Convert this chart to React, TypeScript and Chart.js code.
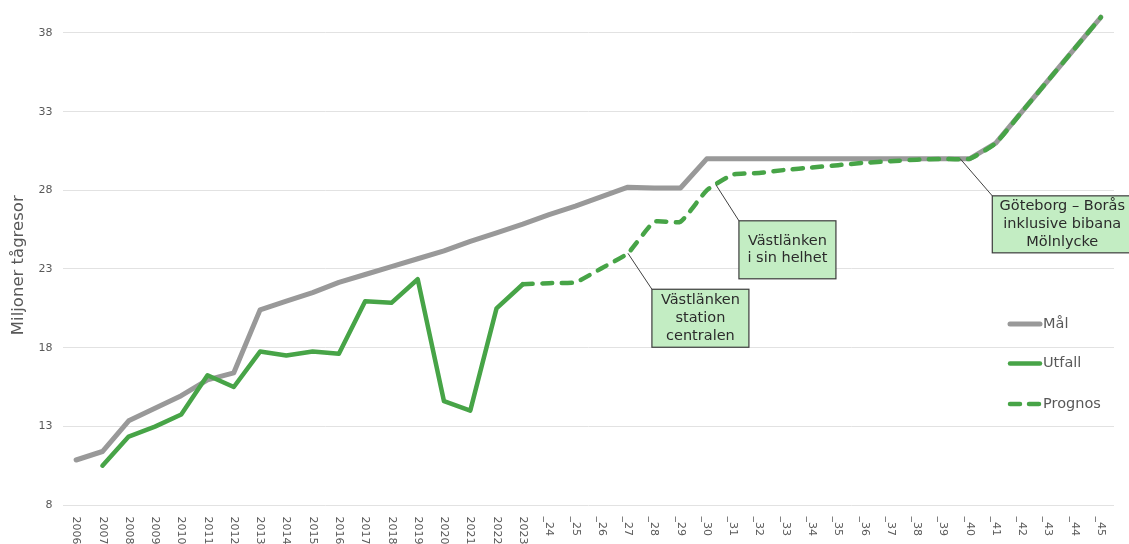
import React, { useEffect, useRef } from "react";
import { Chart, registerables } from "chart.js";

Chart.register(...registerables);

const CATEGORIES: string[] = [
  "2006", "2007", "2008", "2009", "2010", "2011", "2012", "2013", "2014", "2015",
  "2016", "2017", "2018", "2019", "2020", "2021", "2022", "2023",
  "_24", "_25", "_26", "_27", "_28", "_29", "_30", "_31", "_32", "_33", "_34",
  "_35", "_36", "_37", "_38", "_39", "_40", "_41", "_42", "_43", "_44", "_45",
];

const MAL: (number | null)[] = [
  10.86, 11.4, 13.35, 14.15, 14.95, 15.95, 16.4, 20.4, 20.95, 21.5,
  22.15, 22.65, 23.15, 23.65, 24.15, 24.75, 25.3, 25.85,
  26.45, 27.0, 27.6, 28.2, 28.15, 28.15, 30, 30, 30, 30, 30,
  30, 30, 30, 30, 30, 30, 31, 33, 35, 37, 39,
];

const UTFALL: (number | null)[] = [
  null, 10.5, 12.35, 12.98, 13.75, 16.25, 15.5, 17.75, 17.5, 17.75,
  17.62, 20.95, 20.85, 22.35, 14.6, 14.0, 20.5, 22.03,
  null, null, null, null, null, null, null, null, null, null, null,
  null, null, null, null, null, null, null, null, null, null, null,
];

const PROGNOS: (number | null)[] = [
  null, null, null, null, null, null, null, null, null, null,
  null, null, null, null, null, null, null, 22.03,
  22.1, 22.15, 23.05, 24.0, 26.0, 26.0, 28.0, 29.0, 29.1, 29.3, 29.45,
  29.6, 29.75, 29.85, 29.95, 30.0, 30.0, 31, 33, 35, 37, 39,
];

const Y_TICKS: number[] = [8, 13, 18, 23, 28, 33, 38];
const Y_TITLE = "Miljoner tågresor";

const LEGEND_LABELS: string[] = ["Mål", "Utfall", "Prognos"];

const ANNOTATION_TEXTS: string[][] = [
  ["Västlänken", "station", "centralen"],
  ["Västlänken", "i sin helhet"],
  ["Göteborg – Borås", "inklusive bibana", "Mölnlycke"],
];
// anchor: dataset index, point index, fraction toward next point
const ANNOTATION_ANCHORS: { ds: number; idx: number; t: number }[] = [
  { ds: 2, idx: 21, t: 0 },
  { ds: 2, idx: 24, t: 0.35 },
  { ds: 0, idx: 33, t: 0.65 },
];
const ANNOTATION_BOXES: { dx: number; dy: number; w: number; h: number }[] = [
  { dx: 24, dy: 36, w: 97, h: 58 },
  { dx: 23, dy: 36, w: 97, h: 58 },
  { dx: 32, dy: 37, w: 140, h: 57 },
];

const GRAY = "#999999";
const GREEN = "#47a447";
const TEXT = "#595959";
const FONT = '"DejaVu Sans", Verdana, sans-serif';

const customPlugin = {
  id: "customDraw",
  afterDraw(chart: any) {
    const { ctx, chartArea } = chart;
    const x = chart.scales.x;
    const y = chart.scales.y;
    ctx.save();

    // y tick labels
    ctx.font = `11px ${FONT}`;
    ctx.fillStyle = TEXT;
    ctx.textAlign = "right";
    ctx.textBaseline = "middle";
    Y_TICKS.forEach((v) => {
      ctx.fillText(String(v), chartArea.left - 10.5, y.getPixelForValue(v));
    });

    // x tick labels rotated clockwise
    CATEGORIES.forEach((c, i) => {
      const px = x.getPixelForValue(i);
      ctx.save();
      ctx.translate(px, chartArea.bottom + 11.5);
      ctx.rotate(Math.PI / 2);
      ctx.textAlign = "left";
      ctx.textBaseline = "middle";
      ctx.fillText(c, 0, 0);
      ctx.restore();
    });

    // y title
    ctx.save();
    ctx.font = `16.5px ${FONT}`;
    ctx.fillStyle = TEXT;
    ctx.translate(19, (chartArea.top + chartArea.bottom) / 2 + 12);
    ctx.rotate(-Math.PI / 2);
    ctx.textAlign = "center";
    ctx.textBaseline = "middle";
    ctx.fillText(Y_TITLE, 0, 0);
    ctx.restore();

    // legend
    const legendStyles = [
      { color: GRAY, width: 5, dash: [] as number[] },
      { color: GREEN, width: 4.5, dash: [] as number[] },
      { color: GREEN, width: 4.5, dash: [10, 9] },
    ];
    const legendYs = [324, 363.5, 404];
    const lx0 = chartArea.right - 106;
    const lx1 = chartArea.right - 72;
    LEGEND_LABELS.forEach((label, i) => {
      const st = legendStyles[i];
      const ly = legendYs[i];
      ctx.save();
      ctx.strokeStyle = st.color;
      ctx.lineWidth = st.width;
      ctx.lineCap = "round";
      ctx.setLineDash(st.dash);
      ctx.beginPath();
      ctx.moveTo(lx0 + 2, ly);
      ctx.lineTo(lx1 - 2, ly);
      ctx.stroke();
      ctx.restore();
      ctx.font = `14.5px ${FONT}`;
      ctx.fillStyle = TEXT;
      ctx.textAlign = "left";
      ctx.textBaseline = "middle";
      ctx.fillText(label, lx1 + 1, ly);
    });

    // annotations
    ANNOTATION_TEXTS.forEach((lines, k) => {
      const a = ANNOTATION_ANCHORS[k];
      const b = ANNOTATION_BOXES[k];
      const pts = chart.getDatasetMeta(a.ds).data;
      const p0 = pts[a.idx];
      const p1 = pts[a.idx + 1] || p0;
      const ax = p0.x + (p1.x - p0.x) * a.t;
      const ay = p0.y + (p1.y - p0.y) * a.t;
      const bx = ax + b.dx;
      const by = ay + b.dy;
      ctx.save();
      ctx.strokeStyle = "#404040";
      ctx.lineWidth = 1;
      ctx.beginPath();
      ctx.moveTo(ax, ay);
      ctx.lineTo(bx, by);
      ctx.stroke();
      ctx.fillStyle = "#c3edc3";
      ctx.fillRect(bx, by, b.w, b.h);
      ctx.strokeStyle = "#3c3c3c";
      ctx.lineWidth = 1.2;
      ctx.strokeRect(bx, by, b.w, b.h);
      ctx.font = `14.5px ${FONT}`;
      ctx.fillStyle = "#2b2b2b";
      ctx.textAlign = "center";
      ctx.textBaseline = "middle";
      const lh = 17.8;
      const cy = by + b.h / 2;
      lines.forEach((t, j) => {
        ctx.fillText(t, bx + b.w / 2, cy + (j - (lines.length - 1) / 2) * lh);
      });
      ctx.restore();
    });

    ctx.restore();
  },
};

export default function App() {
  const canvasRef = useRef<HTMLCanvasElement | null>(null);

  useEffect(() => {
    document.body.style.margin = "0";
    const canvas = canvasRef.current;
    if (!canvas) return;
    const chart = new Chart(canvas, {
      type: "line",
      data: {
        labels: CATEGORIES,
        datasets: [
          {
            label: "Mål",
            data: MAL,
            borderColor: GRAY,
            backgroundColor: GRAY,
            borderWidth: 5,
            pointRadius: 0,
            tension: 0,
            borderJoinStyle: "round",
            borderCapStyle: "round",
            order: 2,
          },
          {
            label: "Utfall",
            data: UTFALL,
            borderColor: GREEN,
            backgroundColor: GREEN,
            borderWidth: 4.5,
            pointRadius: 0,
            tension: 0,
            borderJoinStyle: "round",
            borderCapStyle: "round",
            order: 1,
          },
          {
            label: "Prognos",
            data: PROGNOS,
            borderColor: GREEN,
            backgroundColor: GREEN,
            borderWidth: 4.5,
            pointRadius: 0,
            tension: 0.15,
            borderDash: [10, 9.5],
            borderCapStyle: "round",
            borderJoinStyle: "round",
            order: 0,
          },
        ] as any,
      },
      options: {
        animation: false,
        responsive: false,
        maintainAspectRatio: false,
        layout: { padding: { left: 0, right: 15, top: 1.5, bottom: 0 } },
        plugins: {
          legend: { display: false },
          tooltip: { enabled: false },
        },
        scales: {
          x: {
            type: "category",
            offset: true,
            grid: { display: false, drawTicks: false },
            border: { display: false },
            ticks: { display: false },
            afterFit: (scale: any) => {
              scale.height = 39;
            },
          },
          y: {
            type: "linear",
            min: 8,
            max: 40,
            grid: { color: "#e2e2e2", lineWidth: 1, drawTicks: false },
            border: { display: false },
            ticks: { display: false },
            afterBuildTicks: (scale: any) => {
              scale.ticks = Y_TICKS.map((v) => ({ value: v }));
            },
            afterFit: (scale: any) => {
              scale.width = 63;
            },
          },
        },
      } as any,
      plugins: [customPlugin],
    });
    return () => chart.destroy();
  }, []);

  return (
    <div style={{ position: "absolute", left: 0, top: 0, width: 1129, height: 544 }}>
      <canvas ref={canvasRef} width={1129} height={544} />
    </div>
  );
}
